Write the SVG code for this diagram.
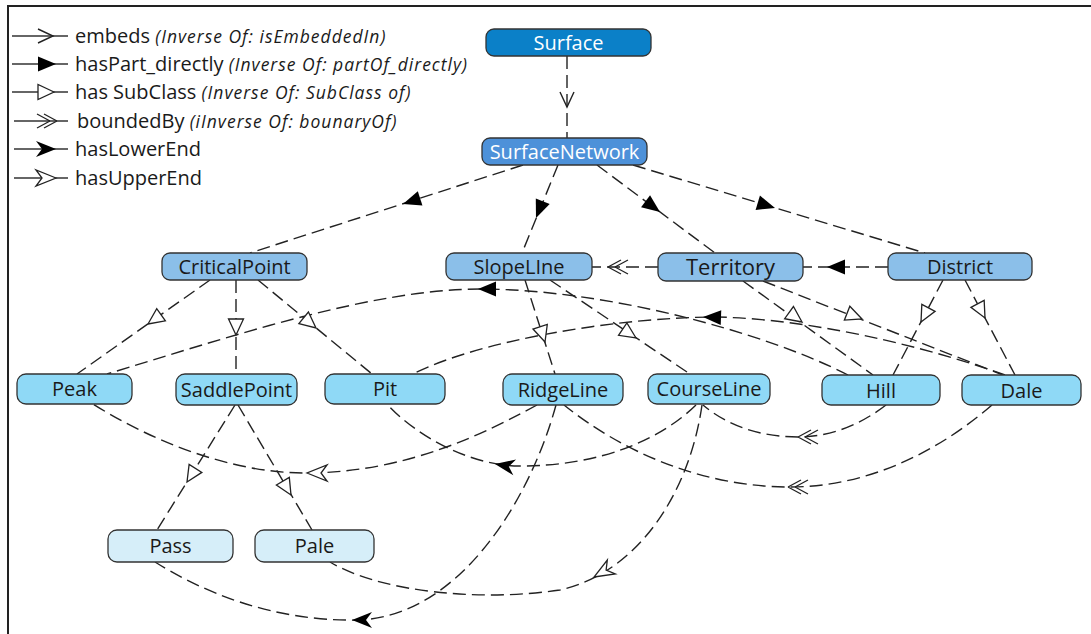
<svg xmlns="http://www.w3.org/2000/svg" width="1091" height="634" viewBox="0 0 1091 634">
<style>
.bg{fill:#fff}
.frame{fill:none;stroke:#222;stroke-width:2}
.edge{fill:none;stroke:#222;stroke-width:1.4;stroke-dasharray:13 6}
.leg{fill:none;stroke:#333;stroke-width:1.4}
.node rect{stroke:#333;stroke-width:1.3}
.node text{font-family:"Open Sans","Noto Sans",sans-serif;font-size:20px;text-anchor:middle;fill:#1a1a1a}
.l0 rect{fill:#0b80c8}
.l1 rect{fill:#4d91d9}
.l0 text,.l1 text{fill:#fff}
.l2 rect{fill:#8bbfe9}
.l3 rect{fill:#8fd9f6}
.l4 rect{fill:#d6eef9}
.lt{font-family:"Open Sans","Noto Sans",sans-serif;font-size:20px;fill:#1a1a1a}
.it{font-style:italic;font-size:17.5px;letter-spacing:1px}
</style>
<defs>
<path id="m-embeds" d="M-15,-7 L0,0 L-15,7" fill="none" stroke="#222" stroke-width="1.4"/>
<path id="m-part" d="M0,0 L-18,-7.5 L-18,7.5 Z" fill="#000"/>
<path id="m-sub" d="M0,0 L-16,-7.5 L-16,7.5 Z" fill="#fff" stroke="#222" stroke-width="1.3"/>
<path id="m-bound" d="M0,0 L-13,-7 M0,0 L-13,7 M-7,0 L-20,-7 M-7,0 L-20,7" fill="none" stroke="#222" stroke-width="1.3"/>
<path id="m-lower" d="M0,0 L-20,-8 L-14,0 L-20,8 Z" fill="#000"/>
<path id="m-upper" d="M0,0 L-20,-8 L-14,0 L-20,8 Z" fill="#fff" stroke="#222" stroke-width="1.3"/>
</defs>
<rect class="bg" x="0" y="0" width="1091" height="634"/>
<path class="frame" d="M8,634 V6 H1091"/>

<g id="legend">
<path class="leg" d="M12,36 H68"/><use href="#m-embeds" transform="translate(53,36)"/>
<text class="lt" x="75" y="43">embeds <tspan class="it">(Inverse Of: isEmbeddedIn)</tspan></text>
<path class="leg" d="M12,64 H68"/><use href="#m-part" transform="translate(56,64)"/>
<text class="lt" x="75" y="71">hasPart_directly <tspan class="it">(Inverse Of: partOf_directly)</tspan></text>
<path class="leg" d="M12,92 H68"/><use href="#m-sub" transform="translate(54,92)"/>
<text class="lt" x="75" y="99">has SubClass <tspan class="it">(Inverse Of: SubClass of)</tspan></text>
<path class="leg" d="M14,121 H68"/><use href="#m-bound" transform="translate(57,121)"/>
<text class="lt" x="77" y="128">boundedBy <tspan class="it">(iInverse Of: bounaryOf)</tspan></text>
<path class="leg" d="M14,149 H68"/><use href="#m-lower" transform="translate(56,149)"/>
<text class="lt" x="75" y="156">hasLowerEnd</text>
<path class="leg" d="M14,178 H68"/><use href="#m-upper" transform="translate(56,178)"/>
<text class="lt" x="75" y="185">hasUpperEnd</text>
</g>

<g id="connectors">
<path class="edge" d="M567,56 V138"/>
<path class="edge" d="M523,165 L250,253"/>
<path class="edge" d="M558,165 L522,253"/>
<path class="edge" d="M597,165 L715,253"/>
<path class="edge" d="M633,165 L925,253"/>
<path class="edge" d="M888,267 H803"/>
<path class="edge" d="M658,267 H592"/>
<path class="edge" d="M210,280 L77,374"/>
<path class="edge" d="M236,280 V374"/>
<path class="edge" d="M258,280 L372,374"/>
<path class="edge" d="M525,280 L555,374"/>
<path class="edge" d="M550,280 L690,374"/>
<path class="edge" d="M743,281 L873,375"/>
<path class="edge" d="M763,281 L1003,375"/>
<path class="edge" d="M943,280 L893,375"/>
<path class="edge" d="M965,280 L1015,375"/>
<path class="edge" d="M235,405 L157,530"/>
<path class="edge" d="M238,405 L312,530"/>
<path class="edge" d="M848,375 C760,330 600,289 480,289 C370,289 220,340 107,374"/>
<path class="edge" d="M1005,375 C950,355 830,320 718,317 C620,317 480,340 413,374"/>
<path class="edge" d="M537,405 C490,430 410,473 305,473 C230,473 150,440 93,404"/>
<path class="edge" d="M696,405 C660,440 600,466 520,466 C470,466 415,435 387,404"/>
<path class="edge" d="M702,405 C690,490 640,572 560,590 C480,602 380,592 330,562"/>
<path class="edge" d="M556,405 C530,500 460,615 360,620 C270,622 200,590 155,562"/>
<path class="edge" d="M886,405 C860,425 830,437 798,437 C765,437 730,428 703,405"/>
<path class="edge" d="M992,405 C940,450 870,487 790,487 C700,487 620,450 564,405"/>

<use href="#m-embeds" transform="translate(567,107) rotate(90)"/>
<use href="#m-part" transform="translate(403,204) rotate(162)"/>
<use href="#m-part" transform="translate(536,218) rotate(112)"/>
<use href="#m-part" transform="translate(660,212) rotate(36.7)"/>
<use href="#m-part" transform="translate(775,208) rotate(16.8)"/>
<use href="#m-part" transform="translate(827,267) rotate(180)"/>
<use href="#m-bound" transform="translate(608,267) rotate(180)"/>
<use href="#m-sub" transform="translate(148,324) rotate(144.7)"/>
<use href="#m-sub" transform="translate(236,335) rotate(90)"/>
<use href="#m-sub" transform="translate(316,328) rotate(39.5)"/>
<use href="#m-sub" transform="translate(545,342) rotate(72.3)"/>
<use href="#m-sub" transform="translate(636,338) rotate(33.9)"/>
<use href="#m-sub" transform="translate(802,322) rotate(35.9)"/>
<use href="#m-sub" transform="translate(862,319) rotate(21.4)"/>
<use href="#m-sub" transform="translate(921,322) rotate(117.8)"/>
<use href="#m-sub" transform="translate(985,318) rotate(62.2)"/>
<use href="#m-sub" transform="translate(187,482) rotate(122)"/>
<use href="#m-sub" transform="translate(291,495) rotate(59.4)"/>
<use href="#m-part" transform="translate(478,289) rotate(180)"/>
<use href="#m-part" transform="translate(703,317) rotate(182)"/>
<use href="#m-upper" transform="translate(307,473) rotate(180)"/>
<use href="#m-lower" transform="translate(495,464) rotate(190)"/>
<use href="#m-upper" transform="translate(594,577) rotate(150)"/>
<use href="#m-lower" transform="translate(352,620) rotate(180)"/>
<use href="#m-bound" transform="translate(798,437) rotate(180)"/>
<use href="#m-bound" transform="translate(788,487) rotate(180)"/>
</g>

<g id="node-surface" class="node l0"><rect x="486" y="29" width="165" height="27" rx="8"/><text x="568.5" y="49.5">Surface</text></g>
<g id="node-surfacenetwork" class="node l1"><rect x="482" y="138" width="165" height="27" rx="8"/><text x="564.5" y="158.5">SurfaceNetwork</text></g>
<g id="node-criticalpoint" class="node l2"><rect x="162" y="253" width="145" height="27" rx="8"/><text x="234.5" y="273.5">CriticalPoint</text></g>
<g id="node-slopeline" class="node l2"><rect x="446" y="253" width="146" height="27" rx="8"/><text x="519" y="273.5">SlopeLIne</text></g>
<g id="node-territory" class="node l2"><rect x="658" y="253" width="145" height="28" rx="8"/><text x="730.5" y="275" style="font-size:22px">Territory</text></g>
<g id="node-district" class="node l2"><rect x="888" y="253" width="144" height="27" rx="8"/><text x="960" y="273.5">District</text></g>
<g id="node-peak" class="node l3"><rect x="17" y="374" width="115" height="30" rx="9"/><text x="74.5" y="396">Peak</text></g>
<g id="node-saddlepoint" class="node l3"><rect x="176" y="374" width="121" height="31" rx="9"/><text x="236.5" y="396.5">SaddlePoint</text></g>
<g id="node-pit" class="node l3"><rect x="325" y="374" width="120" height="30" rx="9"/><text x="385" y="396">Pit</text></g>
<g id="node-ridgeline" class="node l3"><rect x="503" y="374" width="120" height="31" rx="9"/><text x="563" y="396.5">RidgeLine</text></g>
<g id="node-courseline" class="node l3"><rect x="648" y="374" width="122" height="30" rx="9"/><text x="709" y="396">CourseLine</text></g>
<g id="node-hill" class="node l3"><rect x="822" y="375" width="118" height="30" rx="9"/><text x="881" y="397.5">Hill</text></g>
<g id="node-dale" class="node l3"><rect x="962" y="375" width="119" height="30" rx="9"/><text x="1021.5" y="397.5">Dale</text></g>
<g id="node-pass" class="node l4"><rect x="108" y="530" width="125" height="32" rx="9"/><text x="170.5" y="553">Pass</text></g>
<g id="node-pale" class="node l4"><rect x="255" y="530" width="119" height="32" rx="9"/><text x="314.5" y="553">Pale</text></g>
</svg>
